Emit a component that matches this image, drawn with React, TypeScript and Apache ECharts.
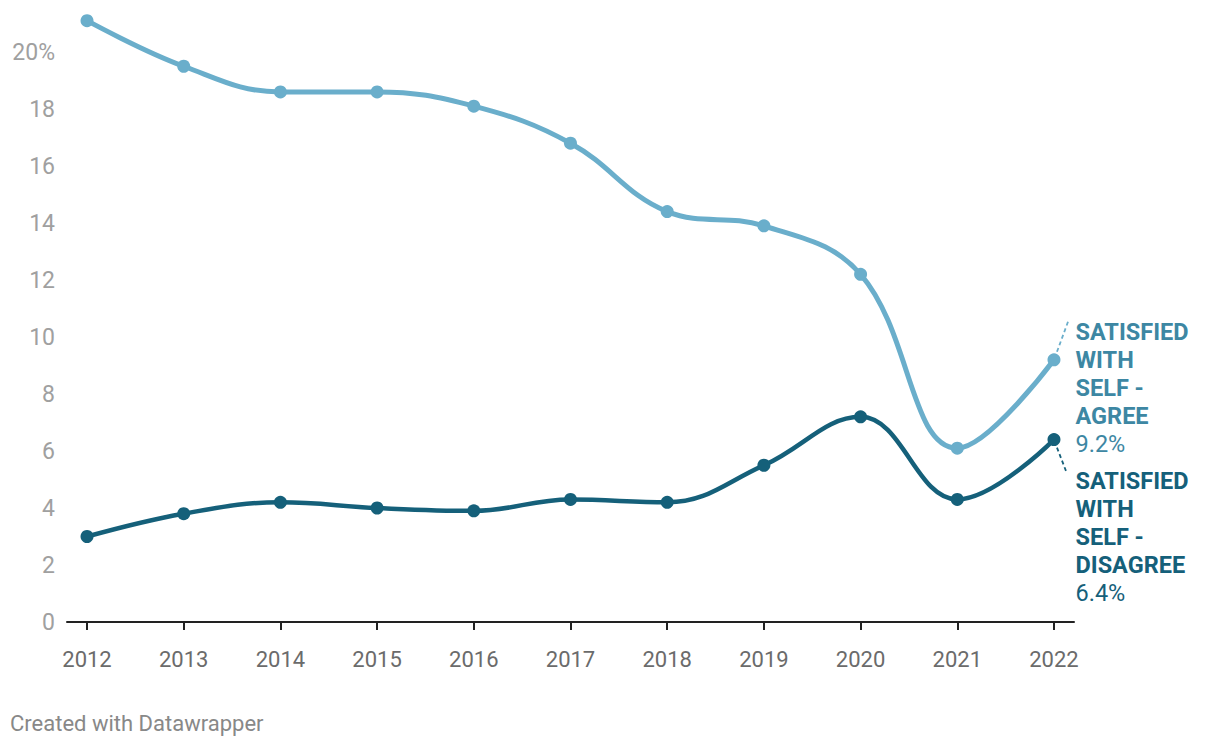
import { useEffect, useRef } from "react";
import * as echarts from "echarts";

const years = [2012, 2013, 2014, 2015, 2016, 2017, 2018, 2019, 2020, 2021, 2022];
const agree = [21.1, 19.5, 18.6, 18.6, 18.1, 16.8, 14.4, 13.9, 12.2, 6.1, 9.2];
const disagree = [3.0, 3.8, 4.2, 4.0, 3.9, 4.3, 4.2, 5.5, 7.2, 4.3, 6.4];
const yTicks = [0, 2, 4, 6, 8, 10, 12, 14, 16, 18, 20];
const agreeName = ["SATISFIED", "WITH", "SELF -", "AGREE"];
const disagreeName = ["SATISFIED", "WITH", "SELF -", "DISAGREE"];

const LIGHT = "#6aaecb";
const DARK = "#15607a";
const AGREE_TXT = "#3d87a3";
const FONT = "Roboto, 'Noto Sans', sans-serif";

function buildData(vals: number[], labelColor: string) {
  return years.map((y, i) =>
    i === years.length - 1
      ? { value: [y, vals[i]], label: { show: true, color: labelColor } }
      : [y, vals[i]]
  );
}

function labelText(name: string[], v: number) {
  return name.map((n) => `{b|${n}}`).join("\n") + `\n{n|${v.toFixed(1)}%}`;
}

export default function App() {
  const ref = useRef<HTMLDivElement>(null);
  useEffect(() => {
    if (!ref.current) return;
    const chart = echarts.init(ref.current, null, { renderer: "svg" });
    const mkSeries = (name: string, vals: number[], color: string, txt: string, nameLines: string[], dy: number, width: number) => ({
      type: "line",
      name,
      data: buildData(vals, txt),
      smooth: 0.4,
      clip: false,
      symbol: "circle",
      symbolSize: 13,
      lineStyle: { color, width },
      itemStyle: { color },
      label: {
        show: false,
        position: "right",
        distance: 5,
        fontFamily: FONT,
        formatter: () => labelText(nameLines, vals[vals.length - 1]),
        rich: {
          b: { fontSize: 23.5, fontWeight: "bold", lineHeight: 28, color: txt, fontFamily: FONT },
          n: { fontSize: 23.5, fontWeight: "normal", lineHeight: 28, color: txt, fontFamily: FONT },
        },
      },
      labelLayout: { dx: 10, dy },
      emphasis: { disabled: true },
      z: 3,
    });
    chart.setOption({
      animation: false,
      grid: { left: 67, right: 146, top: 17.8, bottom: 126 },
      xAxis: {
        type: "value",
        min: 2011.793,
        max: 2022.207,
        splitLine: { show: false },
        axisLine: { show: true, lineStyle: { color: "#222", width: 2 } },
        axisTick: { show: true, customValues: years, length: 8, lineStyle: { color: "#222", width: 2 } },
        axisLabel: {
          customValues: years,
          formatter: (v: number) => String(v),
          color: "#6b6b6b",
          fontSize: 22,
          fontFamily: FONT,
          margin: 26,
        },
      },
      yAxis: {
        type: "value",
        min: 0,
        max: 21.2,
        splitLine: { show: false },
        axisLine: { show: false },
        axisTick: { show: false },
        axisLabel: {
          customValues: yTicks,
          formatter: (v: number) => (v === 20 ? "20%" : String(v)),
          color: "#a0a0a0",
          fontSize: 23,
          fontFamily: FONT,
          margin: 12,
        },
      },
      series: [
        mkSeries("agree", agree, LIGHT, AGREE_TXT, agreeName, 28, 5),
        mkSeries("disagree", disagree, DARK, DARK, disagreeName, 97, 4.5),
      ],
    });
    const last = years.length - 1;
    const pa = chart.convertToPixel({ gridIndex: 0 }, [years[last], agree[last]]) as number[];
    const pd = chart.convertToPixel({ gridIndex: 0 }, [years[last], disagree[last]]) as number[];
    chart.setOption({
      graphic: [
        {
          type: "line",
          shape: { x1: pa[0] + 3, y1: pa[1] - 8, x2: pa[0] + 14, y2: pa[1] - 38 },
          style: { stroke: LIGHT, lineWidth: 1.8, lineDash: [4, 3] },
        },
        {
          type: "line",
          shape: { x1: pd[0] + 3, y1: pd[1] + 8, x2: pd[0] + 13, y2: pd[1] + 34 },
          style: { stroke: DARK, lineWidth: 1.8, lineDash: [4, 3] },
        },
        {
          type: "text",
          left: 10,
          top: 712,
          style: { text: "Created with Datawrapper", fontSize: 22, fill: "#888", fontFamily: FONT },
        },
      ],
    });
    return () => chart.dispose();
  }, []);
  return <div ref={ref} style={{ position: "absolute", left: 0, top: 0, width: 1220, height: 748 }} />;
}
